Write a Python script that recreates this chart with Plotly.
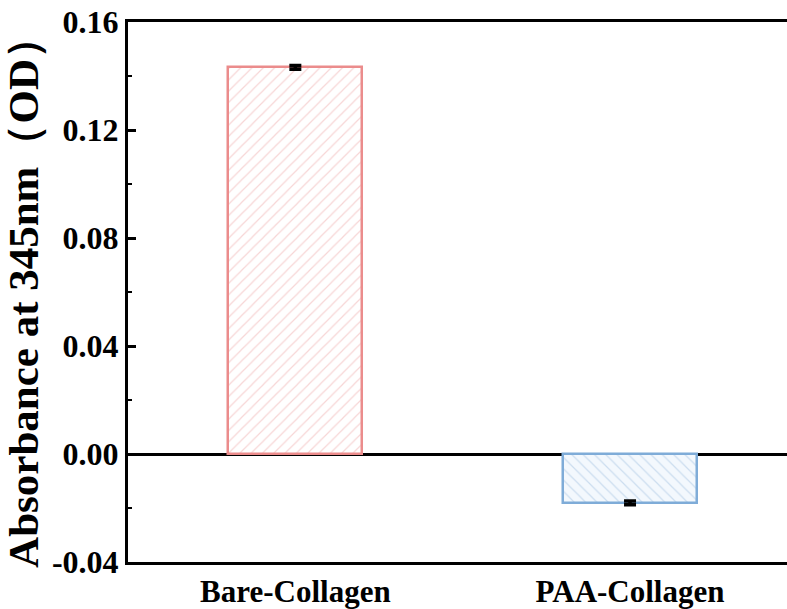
import plotly.graph_objects as go

categories = ["Bare-Collagen", "PAA-Collagen"]
values = [0.1432, -0.0181]
errors = [0.0007, 0.0007]
line_colors = ["#EB8C8C", "#7FACD8"]
hatch_colors = ["#EFADAD", "#A3C2E2"]
bg_colors = ["#FFFFFF", "#F3F8FD"]
shapes = ["/", "\\"]
ytick_vals = [-0.04, 0.0, 0.04, 0.08, 0.12, 0.16]
ytick_text = ["-0.04", "0.00", "0.04", "0.08", "0.12", "0.16"]

FONT = "Liberation Serif, Times New Roman, serif"

fig = go.Figure()
for i, cat in enumerate(categories):
    fig.add_trace(go.Bar(
        x=[i], y=[values[i]], width=0.4,
        marker=dict(
            color=bg_colors[i],
            line=dict(color=line_colors[i], width=2.5),
            pattern=dict(shape=shapes[i], fgcolor=hatch_colors[i], bgcolor=bg_colors[i],
                         size=8, solidity=0.15, fillmode="overlay"),
        ),
        error_y=dict(type="data", array=[errors[i]], color="black", thickness=3.5, width=6),
        showlegend=False,
    ))

fig.update_layout(
    width=787, height=609,
    margin=dict(l=128, r=0, t=22, b=47),
    plot_bgcolor="white", paper_bgcolor="white",
    bargap=0,
    font=dict(family=FONT, color="black"),
)
fig.update_xaxes(
    range=[-0.5, 1.469],
    tickvals=[0, 1], ticktext=categories,
    tickfont=dict(family=FONT, size=31, weight="bold", color="black"),
    showline=True, linecolor="black", linewidth=3, mirror=True,
    ticks="", showgrid=False, zeroline=False,
)
fig.update_yaxes(
    range=[-0.04, 0.16],
    tickvals=ytick_vals, ticktext=ytick_text,
    tickfont=dict(family=FONT, size=32, weight="bold", color="black"),
    showline=True, linecolor="black", linewidth=3, mirror=False,
    ticks="inside", ticklen=8, tickwidth=3, tickcolor="black",
    minor=dict(ticks="inside", ticklen=4, tickwidth=2, tickcolor="black", dtick=0.02, tick0=0),
    showgrid=False,
    zeroline=True, zerolinecolor="black", zerolinewidth=3,
    title=dict(text="Absorbance at 345nm（OD）", font=dict(family=FONT, size=43, weight="bold", color="black"), standoff=3),
)

fig.write_html("out.html")
